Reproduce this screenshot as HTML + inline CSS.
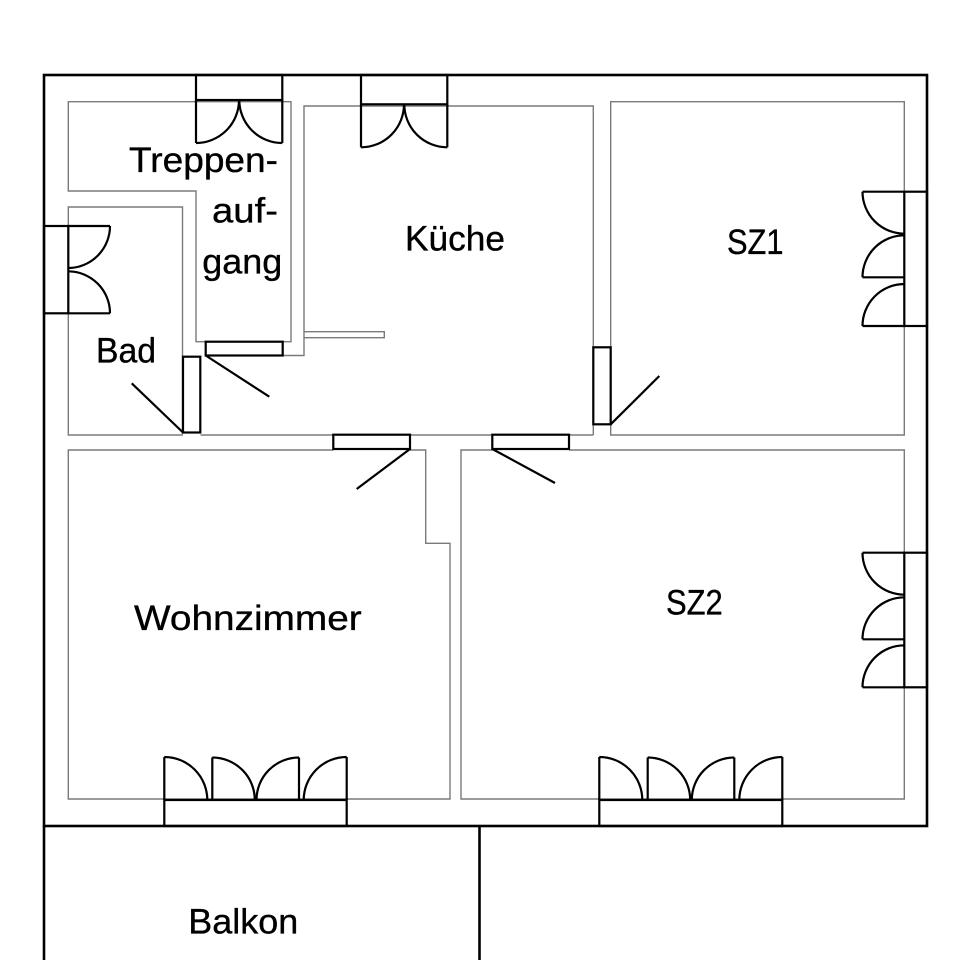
<!DOCTYPE html>
<html>
<head>
<meta charset="utf-8">
<style>
  html, body { margin: 0; padding: 0; background: #ffffff; }
  svg { display: block; }
  text { font-family: "Liberation Sans", "DejaVu Sans", sans-serif; font-size: 35px; fill: #000; stroke: #000; stroke-width: 0.35; }
</style>
</head>
<body>
<svg width="960" height="960" viewBox="0 0 960 960" xmlns="http://www.w3.org/2000/svg">
  <rect x="0" y="0" width="960" height="960" fill="#ffffff"/>

  <!-- Interior walls (thin gray) -->
  <g fill="none" stroke="#7a7a7a" stroke-width="1.4">
    <polyline points="206,341.7 196,341.7 196,191 68.3,191 68.3,101.7 291,101.7 291,341.7 282.7,341.7"/>
    <polyline points="282.7,355.5 304,355.5 304,106 593.3,106 593.3,347.3"/>
    <polyline points="304,331.7 384.3,331.7 384.3,337.7 304,337.7"/>
    <line x1="593.3" y1="424.3" x2="593.3" y2="435"/>
    <line x1="200.5" y1="435" x2="333.3" y2="435"/>
    <line x1="410" y1="435" x2="492.3" y2="435"/>
    <line x1="569" y1="435" x2="593.3" y2="435"/>
    <polyline points="182.5,434 182.5,207 68.3,207 68.3,435 183,435"/>
    <polyline points="610.7,347.3 610.7,101.7 904.3,101.7 904.3,435 610.7,435 610.7,424.3"/>
    <polyline points="333.3,450 68.3,450 68.3,799 450,799 450,543.3 425.7,543.3 425.7,450 410,450"/>
    <polyline points="492.3,450 461,450 461,799 904.3,799 904.3,450 569,450"/>
  </g>

  <!-- Outer walls -->
  <g fill="none" stroke="#000" stroke-width="2.6">
    <rect x="44" y="75" width="883" height="751"/>
    <line x1="44" y1="826" x2="44" y2="960"/>
    <line x1="479.5" y1="826" x2="479.5" y2="960"/>
  </g>

  <!-- Windows and doors (black) -->
  <g fill="none" stroke="#000" stroke-width="2.2" stroke-linejoin="miter">
    <rect x="196" y="75" width="86.3" height="25"/>
    <line x1="196" y1="100" x2="196" y2="143"/>
    <line x1="282.3" y1="100" x2="282.3" y2="143"/>
    <path d="M196,143 A43,43 0 0 0 239,100"/>
    <path d="M282.3,143 A43,43 0 0 1 239.3,100"/>

    <rect x="361" y="75" width="86.3" height="29.3"/>
    <line x1="361" y1="104.3" x2="361" y2="147.3"/>
    <line x1="447.3" y1="104.3" x2="447.3" y2="147.3"/>
    <path d="M361,147.3 A43,43 0 0 0 404,104.3"/>
    <path d="M447.3,147.3 A43,43 0 0 1 404.3,104.3"/>

    <rect x="44" y="226" width="24.3" height="87.3"/>
    <line x1="68.3" y1="226" x2="110" y2="226"/>
    <line x1="68.3" y1="313.3" x2="110" y2="313.3"/>
    <path d="M110,226 A42,42 0 0 1 68.3,268"/>
    <path d="M110,313.3 A42,42 0 0 0 68.3,271.3"/>

    <rect x="904.3" y="191.7" width="22.7" height="134.3"/>
    <line x1="862.5" y1="191.7" x2="904.3" y2="191.7"/>
    <path d="M862.5,191.7 A42,42 0 0 0 904.3,233.7"/>
    <line x1="862.5" y1="277.3" x2="904.3" y2="277.3"/>
    <path d="M862.5,277.3 A42,42 0 0 1 904.3,235.3"/>
    <line x1="862.5" y1="326" x2="904.3" y2="326"/>
    <path d="M862.5,326 A42,42 0 0 1 904.3,284"/>

    <rect x="904.3" y="552.7" width="22.7" height="134.6"/>
    <line x1="862.5" y1="552.7" x2="904.3" y2="552.7"/>
    <path d="M862.5,552.7 A42,42 0 0 0 904.3,594.7"/>
    <line x1="862.5" y1="639.3" x2="904.3" y2="639.3"/>
    <path d="M862.5,639.3 A42,42 0 0 1 904.3,597.3"/>
    <line x1="862.5" y1="687.3" x2="904.3" y2="687.3"/>
    <path d="M862.5,687.3 A42,42 0 0 1 904.3,645.3"/>

    <rect x="164.3" y="800" width="182.4" height="26"/>
    <line x1="164.3" y1="800" x2="164.3" y2="757"/>
    <path d="M164.3,757 A43,43 0 0 1 207.3,800"/>
    <line x1="212.3" y1="800" x2="212.3" y2="757.5"/>
    <path d="M212.3,757.5 A42.5,42.5 0 0 1 254.8,800"/>
    <line x1="299" y1="800" x2="299" y2="757.5"/>
    <path d="M299,757.5 A42.5,42.5 0 0 0 256.5,800"/>
    <line x1="346.7" y1="800" x2="346.7" y2="757"/>
    <path d="M346.7,757 A43,43 0 0 0 303.7,800"/>

    <rect x="599.3" y="800" width="183" height="26"/>
    <line x1="599.3" y1="800" x2="599.3" y2="757"/>
    <path d="M599.3,757 A43,43 0 0 1 642.3,800"/>
    <line x1="647.7" y1="800" x2="647.7" y2="757.5"/>
    <path d="M647.7,757.5 A42.5,42.5 0 0 1 690.2,800"/>
    <line x1="734.3" y1="800" x2="734.3" y2="757.5"/>
    <path d="M734.3,757.5 A42.5,42.5 0 0 0 691.8,800"/>
    <line x1="782.3" y1="800" x2="782.3" y2="757"/>
    <path d="M782.3,757 A43,43 0 0 0 739.3,800"/>

    <rect x="183" y="356.7" width="17.3" height="75.8"/>
    <line x1="183" y1="432.5" x2="131.7" y2="383.3"/>
    <rect x="205.7" y="341.7" width="77" height="13.8"/>
    <line x1="205.7" y1="355.5" x2="269.3" y2="396.7"/>
    <rect x="593.3" y="347.3" width="17.4" height="77"/>
    <line x1="610.7" y1="424.3" x2="659.3" y2="376"/>
    <rect x="333.3" y="434.7" width="76.7" height="14.3"/>
    <line x1="410" y1="449" x2="356.7" y2="489"/>
    <rect x="492.3" y="434.7" width="76.7" height="14.3"/>
    <line x1="492.3" y1="449" x2="555" y2="483"/>
  </g>

  <!-- Labels -->
  <text x="129" y="172" textLength="149" lengthAdjust="spacingAndGlyphs">Treppen-</text>
  <text x="212" y="222.7" textLength="66" lengthAdjust="spacingAndGlyphs">auf-</text>
  <text x="202.3" y="273.3" textLength="80" lengthAdjust="spacingAndGlyphs">gang</text>
  <text x="96" y="362.7" textLength="60" lengthAdjust="spacingAndGlyphs">Bad</text>
  <text x="405" y="250.7" textLength="100" lengthAdjust="spacingAndGlyphs">Küche</text>
  <text x="727" y="254" textLength="56.5" lengthAdjust="spacingAndGlyphs">SZ1</text>
  <text x="666" y="614.3" textLength="56.7" lengthAdjust="spacingAndGlyphs">SZ2</text>
  <text x="134" y="630" textLength="227.7" lengthAdjust="spacingAndGlyphs">Wohnzimmer</text>
  <text x="188.3" y="933.3" textLength="110" lengthAdjust="spacingAndGlyphs">Balkon</text>
</svg>
</body>
</html>
